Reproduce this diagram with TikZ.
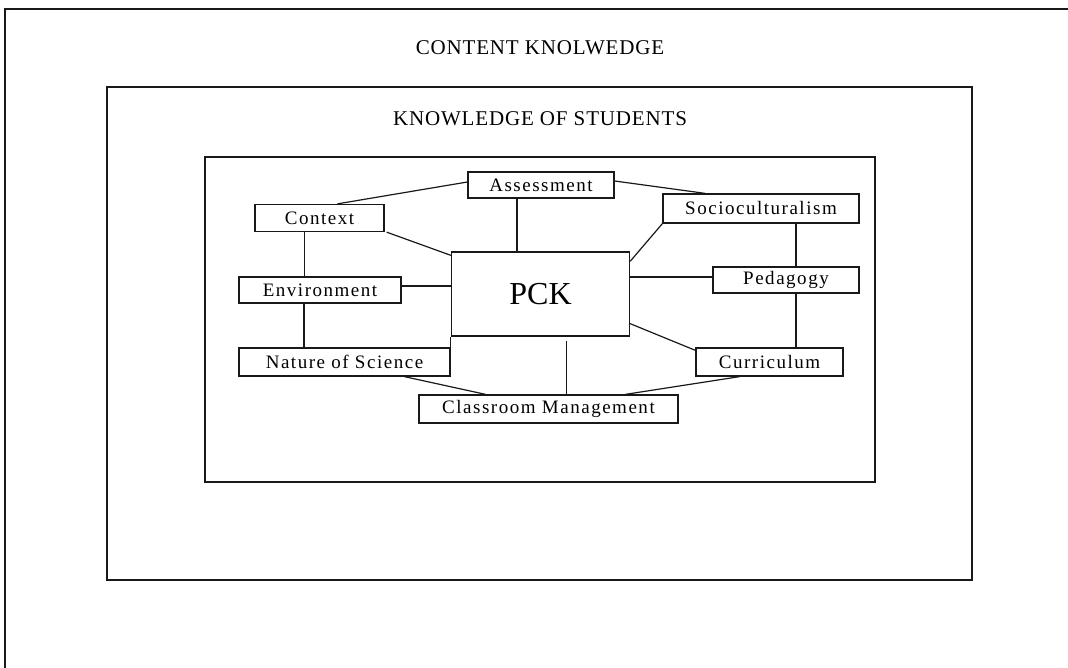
\documentclass[tikz,border=0pt]{standalone}
\usepackage{fontspec}
\setmainfont{Liberation Serif}
\newfontfamily\boxfont[LetterSpace=8]{Liberation Serif}
\newfontfamily\titlefont[LetterSpace=4]{Liberation Serif}
\usetikzlibrary{calc}

\def\framewidth{1.3pt}

\begin{document}
\begin{tikzpicture}[x=1pt, y=-1pt, line width=\framewidth, draw=black!90]
		\tikzstyle{topic}
		=[draw, rectangle, minimum height=27pt, inner sep=0pt,
		font=\boxfont\fontsize{19}{22}\selectfont]
		\tikzstyle{core}
		=[topic, minimum width=178pt, minimum height=84pt,
		font=\fontsize{32}{36}\selectfont]
		\tikzstyle{heading}
		=[font=\titlefont\fontsize{21}{24}\selectfont]
		\tikzstyle{link}
		=[line width=1.2pt]
		
		\useasboundingbox (0,0) rectangle (1068,668);
		\clip (0,0) rectangle (1068,668);
		
		% Draw the nested frames
		\draw (5,9) rectangle (1090,690);
		\draw (107,87) rectangle (972,580);
		\draw (205,157) rectangle (875,482);
		\node[heading] (ck) at (540,48) {CONTENT KNOLWEDGE};
		\node[heading] (ks) at (540,119) {KNOWLEDGE OF STUDENTS};
		
		% Draw the centre node
		\node[core] (pck) at (540.5,294) {PCK};
		
		% Draw the surrounding nodes
		\node[topic, minimum width=146pt, minimum height=26pt] (ass) at (541,185) {Assessment};
		\node[topic, minimum width=129pt] (ctx) at (319.5,218) {Context};
		\node[topic, minimum width=196pt, minimum height=29pt] (soc) at (761,208.5) {Socioculturalism};
		\node[topic, minimum width=162pt, minimum height=26pt] (env) at (320,290) {Environment};
		\node[topic, minimum width=146pt, minimum height=26pt] (ped) at (786,280) {Pedagogy};
		\node[topic, minimum width=211pt, minimum height=28pt] (nos) at (344.5,362) {Nature of Science};
		\node[topic, minimum width=147pt, minimum height=28pt] (cur) at (769.5,362) {Curriculum};
		\node[topic, minimum width=259pt, minimum height=28pt] (cls) at (548.5,409) {Classroom Management};
		
		% Connect the nodes on the outer ring
		\draw[link] ([xshift=18pt]ctx.north) -- ([yshift=3pt]ass.west);
		\draw[link] ([yshift=4pt]ass.east) -- ([xshift=-56pt]soc.north);
		\draw[link] ([xshift=-15pt]ctx.south) -- ([xshift=-15pt]ctx.south |- env.north);
		\draw[link] ([xshift=-16pt]env.south) -- ([xshift=-16pt]env.south |- nos.north);
		\draw[link] ([xshift=35pt]soc.south) -- ([xshift=35pt]soc.south |- ped.north);
		\draw[link] ([xshift=10pt]ped.south) -- ([xshift=10pt]ped.south |- cur.north);
		\draw[link] ([xshift=60pt]nos.south) -- ([xshift=-63pt]cls.north);
		\draw[link] ([xshift=-30pt]cur.south) -- ([xshift=77pt]cls.north);
		
		% Connect every node with the centre
		\draw[link] ([xshift=-24pt]ass.south) -- ([xshift=-24pt]ass.south |- pck.north);
		\draw[link] ([xshift=2pt]ctx.south east) -- ([yshift=-4pt]pck.north west);
		\draw[link] (soc.south west) -- ([yshift=-10pt]pck.north east);
		\draw[link] ([yshift=17pt]pck.east) -- ([yshift=17pt]pck.east -| ped.west);
		\draw[link] ([yshift=4pt]env.east) -- ([yshift=4pt]env.east -| pck.west);
		\draw[link] (pck.south west) -- (pck.south west |- nos.north);
		\draw[link] ([yshift=13pt]pck.south east) -- ([yshift=-3pt]cur.north west);
		\draw[link] ([xshift=26pt, yshift=-4pt]pck.south) -- ([xshift=26pt]pck.south |- cls.north);
	\end{tikzpicture}
\end{document}
